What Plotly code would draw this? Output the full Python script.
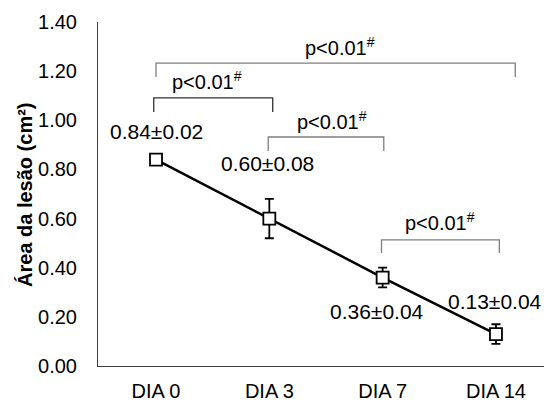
import plotly.graph_objects as go

categories = ["DIA 0", "DIA 3", "DIA 7", "DIA 14"]
means = [0.84, 0.60, 0.36, 0.13]
errors = [0.02, 0.08, 0.04, 0.04]
y_ticks = [0.0, 0.2, 0.4, 0.6, 0.8, 1.0, 1.2, 1.4]
p_text = "p<0.01<sup>#</sup>"

FONT = "Liberation Sans, Arial, sans-serif"
FS = 20

fig = go.Figure()
fig.add_trace(go.Scatter(
    x=categories, y=means, mode="lines+markers",
    line=dict(color="black", width=2.5),
    marker=dict(symbol="square", size=12, color="white", line=dict(color="black", width=1.8)),
    error_y=dict(type="data", array=errors, visible=True, color="black", thickness=1.8, width=4.5),
    showlegend=False, hoverinfo="skip",
))

# value labels
label_pos = [(0.0, 0.956), (0.98, 0.826), (1.95, 0.22), (2.99, 0.262)]
for (lx, ly), m, e in zip(label_pos, means, errors):
    fig.add_annotation(x=lx, y=ly, xref="x", yref="y", text=f"{m:.2f}±{e:.2f}",
                       showarrow=False, font=dict(family=FONT, size=21, color="black"),
                       xanchor="center", yanchor="middle")

# significance brackets: (x0, x1, ytop, ybottom, color)
brackets = [
    (0.0, 3.17, 1.233, 1.176, "#7f7f7f"),
    (-0.02, 1.03, 1.091, 1.034, "#303030"),
    (0.99, 2.01, 0.932, 0.875, "#7f7f7f"),
    (1.99, 3.03, 0.513, 0.460, "#7f7f7f"),
]
for x0, x1, yt, yb, c in brackets:
    fig.add_shape(type="path", xref="x", yref="y",
                  path=f"M {x0} {yb} L {x0} {yt} L {x1} {yt} L {x1} {yb}",
                  line=dict(color=c, width=1.3))

p_pos = [(1.62, 1.300), (0.45, 1.163), (1.55, 1.000), (2.51, 0.590)]
for px, py in p_pos:
    fig.add_annotation(x=px, y=py, xref="x", yref="y", text=p_text, showarrow=False,
                       font=dict(family=FONT, size=FS, color="black"),
                       xanchor="center", yanchor="middle")

# y-axis title
fig.add_annotation(x=-73 / 446, y=0.497, xref="paper", yref="paper",
                   text="<b>Área da lesão (cm²)</b>", textangle=-90, showarrow=False,
                   font=dict(family=FONT, size=FS, color="black"),
                   xanchor="center", yanchor="middle")

fig.update_layout(
    width=544, height=402,
    margin=dict(l=98, r=0, t=22, b=36, autoexpand=False),
    plot_bgcolor="white", paper_bgcolor="white",
    font=dict(family=FONT, size=FS, color="black"),
    xaxis=dict(type="category", categoryorder="array", categoryarray=categories,
               range=[-0.512, 3.424], showgrid=False, zeroline=False, automargin=False,
               showline=True, linecolor="#404040", linewidth=1, ticks="",
               tickfont=dict(family=FONT, size=FS, color="black"),
               ticklabelstandoff=7),
    yaxis=dict(range=[0, 1.4], tickvals=y_ticks, tickformat=".2f", automargin=False,
               showgrid=False, zeroline=False, showline=True, linecolor="#404040",
               linewidth=1, ticks="", tickfont=dict(family=FONT, size=FS, color="black"),
               ticklabelstandoff=16),
)

fig.write_html("out.html")
